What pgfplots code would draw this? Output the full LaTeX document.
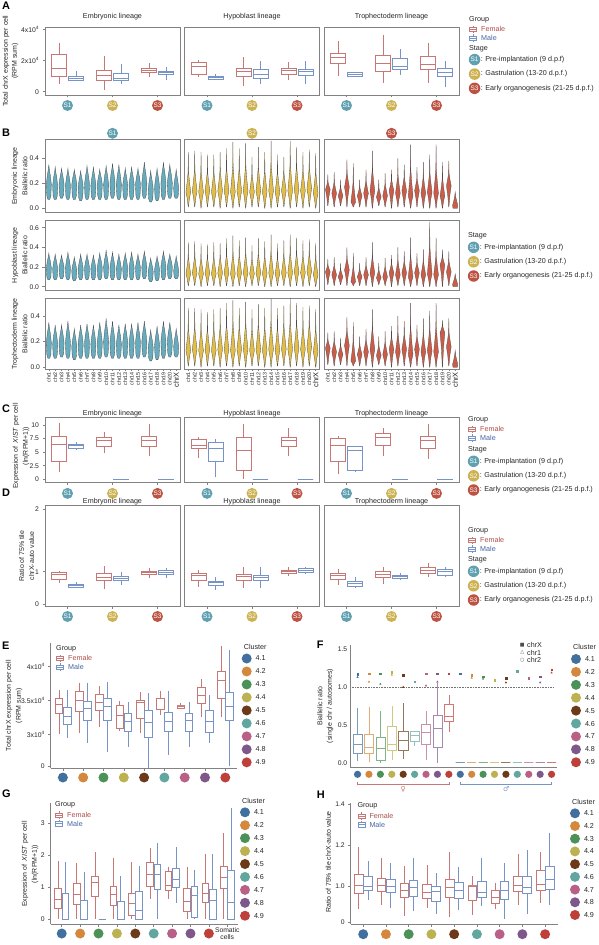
\documentclass[border=0pt]{standalone}
\usepackage{pgfplots}
\pgfplotsset{compat=1.18}
\usepgfplotslibrary{statistics}
\usepackage{fontspec}
\setmainfont{Liberation Sans}
\newfontfamily\symf{DejaVu Sans}

\definecolor{fcol}{RGB}{198,120,118}
\definecolor{mcol}{RGB}{120,148,198}
\definecolor{ftxt}{RGB}{176,78,74}
\definecolor{mtxt}{RGB}{70,100,165}
\definecolor{s1c}{RGB}{96,160,176}
\definecolor{s2c}{RGB}{204,178,82}
\definecolor{s3c}{RGB}{188,82,66}
\definecolor{v1}{RGB}{102,172,190}
\definecolor{v2}{RGB}{226,190,72}
\definecolor{v3}{RGB}{204,92,72}
\definecolor{c1}{RGB}{66,112,158}
\definecolor{c2}{RGB}{212,136,62}
\definecolor{c3}{RGB}{76,146,88}
\definecolor{c4}{RGB}{188,178,82}
\definecolor{c5}{RGB}{108,58,24}
\definecolor{c6}{RGB}{98,166,160}
\definecolor{c7}{RGB}{184,96,134}
\definecolor{c8}{RGB}{126,88,138}
\definecolor{c9}{RGB}{190,64,58}
\definecolor{axc}{RGB}{130,130,130}

\newcommand{\fsz}[1]{\fontsize{#1}{#1}\selectfont}
\newcommand{\stc}[2]{\tikz\node[circle,fill=#1,inner sep=0pt,minimum size=11bp,text=white,font=\fsz{6.5}]{#2};}
\newcommand{\clc}[1]{\tikz\node[circle,fill=#1,inner sep=0pt,minimum size=10bp]{};}

\pgfplotsset{
 base/.style={scale only axis, anchor=north west, clip=false,
   axis line style={draw=axc, line width=0.7pt},
   every tick/.style={draw=axc, line width=0.5pt},
   major tick length=2.5bp, tick align=outside, tick pos=left,
   tick label style={font=\fsz{6.8}, text=black!85},
   /pgf/number format/assume math mode=true,
   scaled ticks=false,
   boxplot/draw direction=y,
   boxplot/whisker extend=0},
 stx/.style={xtick={1,2,3}, xticklabels={\stc{s1c}{S1},\stc{s2c}{S2},\stc{s3c}{S3}}, xticklabel style={anchor=center, yshift=#1}},
 clx/.style={xtick={1,...,9}, xticklabels={\clc{c1},\clc{c2},\clc{c3},\clc{c4},\clc{c5},\clc{c6},\clc{c7},\clc{c8},\clc{c9}}, xticklabel style={anchor=center, yshift=#1}},
 open/.style={base, axis x line*=bottom, axis y line*=left},
 fbx/.style={draw=fcol, fill=white, line width=0.5pt},
 mbx/.style={draw=mcol, fill=white, line width=0.5pt},
 one/.style={yticklabel style={/pgf/number format/.cd, fixed, fixed zerofill, precision=1}},
 vax/.style={base, width=135bp, xmin=0.4, xmax=21.6, xtick=\empty, one},
}

\newcommand{\boff}{0.19}
\newcommand{\bF}[6]{\pgfmathsetmacro\dpos{#1-\boff}\edef\btmp{\noexpand\addplot[fbx, boxplot prepared={draw position=\dpos, lower whisker=#2, lower quartile=#3, median=#4, upper quartile=#5, upper whisker=#6}] coordinates {};}\btmp}
\newcommand{\bM}[6]{\pgfmathsetmacro\dpos{#1+\boff}\edef\btmp{\noexpand\addplot[mbx, boxplot prepared={draw position=\dpos, lower whisker=#2, lower quartile=#3, median=#4, upper quartile=#5, upper whisker=#6}] coordinates {};}\btmp}
\newcommand{\bC}[7]{\edef\btmp{\noexpand\addplot[draw=#1!70!white, fill=white, line width=0.5pt, boxplot prepared={draw position=#2, lower whisker=#3, lower quartile=#4, median=#5, upper quartile=#6, upper whisker=#7}] coordinates {};}\btmp}

% violin shape parameters
\newcommand{\shapeA}{\def\fa{0.25}\def\wa{0.8}\def\wdd{0.35}\def\fb{0.45}\def\wb{0.6}\def\fc{0.8}\def\wc{0.15}\def\vw{0.40}}
\newcommand{\shapeB}{\def\fa{0.55}\def\wa{0.45}\def\wdd{0.04}\def\fb{0.25}\def\wb{0.5}\def\fc{0.5}\def\wc{0.1}\def\vw{0.37}}
\newcommand{\shapeX}{\def\fa{0.5}\def\wa{0.95}\def\wdd{0.85}\def\fb{0.3}\def\wb{0.6}\def\fc{0.65}\def\wc{0.2}\def\vw{0.40}}
\newcommand{\vio}[4]{%
 \pgfmathsetmacro\vya{#2+\fa*(#3-#2)}%
 \pgfmathsetmacro\vyb{#3+\fb*(#4-#3)}%
 \pgfmathsetmacro\vyc{#3+\fc*(#4-#3)}%
 \pgfmathsetmacro\vxd{#1-\wdd*\vw}\pgfmathsetmacro\vXd{#1+\wdd*\vw}%
 \pgfmathsetmacro\vxa{#1-\wa*\vw}\pgfmathsetmacro\vXa{#1+\wa*\vw}%
 \pgfmathsetmacro\vxm{#1-\vw}\pgfmathsetmacro\vXm{#1+\vw}%
 \pgfmathsetmacro\vxb{#1-\wb*\vw}\pgfmathsetmacro\vXb{#1+\wb*\vw}%
 \pgfmathsetmacro\vxc{#1-\wc*\vw}\pgfmathsetmacro\vXc{#1+\wc*\vw}%
 \edef\vtmp{\noexpand\addplot[vio] coordinates {(\vxd,#2) (\vxa,\vya) (\vxm,#3) (\vxb,\vyb) (\vxc,\vyc) (#1,#4) (\vXc,\vyc) (\vXb,\vyb) (\vXm,#3) (\vXa,\vya) (\vXd,#2) (\vxd,#2)};}%
 \vtmp}

\tikzset{tl/.style={font=\fsz{7.2}, inner sep=0pt, text=black!85},
 yl/.style={font=\fsz{7}, inner sep=0pt, text=black!85, rotate=90},
 let/.style={font=\fsz{11}\bfseries, inner sep=0pt, anchor=north west}}

\newcommand{\glyph}[3]{\draw[#1, line width=0.5pt] ({#2-3.5},{#3-2.2}) rectangle ({#2+3.5},{#3+2.2}) ({#2-3.5},#3)--({#2+3.5},#3) (#2,{#3-2.2})--(#2,{#3-3.6}) (#2,{#3+2.2})--(#2,{#3+3.6});}
\newcommand{\grp}[2]{%
 \node[tl,anchor=west] at (#1,#2) {Group};
 \glyph{fcol}{#1+4}{#2+10}
 \node[tl,anchor=west,text=ftxt] at ({#1+12},{#2+10}) {Female};
 \glyph{mcol}{#1+4}{#2+18.7}
 \node[tl,anchor=west,text=mtxt] at ({#1+12},{#2+18.7}) {Male};}
\newcommand{\stg}[2]{%
 \node[tl,anchor=west] at (#1,#2) {Stage};
 \node[circle,fill=s1c,minimum size=11.5bp,inner sep=0pt,text=white,font=\fsz{6.5}] at ({#1+5.6},{#2+11.3}) {S1};
 \node[tl,anchor=west] at ({#1+11.6},{#2+11.3}) {: Pre-implantation (9 d.p.f)};
 \node[circle,fill=s2c,minimum size=11.5bp,inner sep=0pt,text=white,font=\fsz{6.5}] at ({#1+5.6},{#2+25.8}) {S2};
 \node[tl,anchor=west] at ({#1+11.6},{#2+25.8}) {: Gastrulation (13-20 d.p.f.)};
 \node[circle,fill=s3c,minimum size=11.5bp,inner sep=0pt,text=white,font=\fsz{6.5}] at ({#1+5.6},{#2+40}) {S3};
 \node[tl,anchor=west] at ({#1+11.6},{#2+40}) {: Early organogenesis (21-25 d.p.f.)};}
\newcommand{\clu}[4]{%
 \node[tl,anchor=west] at ({#1-3},#2) {Cluster};
 \foreach \cc [count=\kk] in {c1,c2,c3,c4,c5,c6,c7,c8,c9} {
  \node[circle,fill=\cc,minimum size=10bp,inner sep=0pt] at (#1,{#3+(\kk-1)*#4}) {};
  \node[tl,anchor=west] at ({#1+8.8},{#3+(\kk-1)*#4}) {4.\kk};}}

\begin{document}
\begin{tikzpicture}
\useasboundingbox (0,0) rectangle (599bp,-945bp);

%================ A =================
\begin{axis}[base, at={(45bp,-27.3bp)}, width=135bp, height=67.7bp, xmin=0.5, xmax=3.5, ymin=-0.21, ymax=4.13, stx=-8bp, boxplot/box extend=0.34, ytick={0,2,4}, yticklabels={0,2x10\textsuperscript{4},4x10\textsuperscript{4}}]
\bF{1}{0.49}{0.97}{1.5}{2.39}{3.13}\bM{1}{0.75}{0.76}{0.85}{1.02}{1.35}
\bF{2}{0.08}{0.72}{1.08}{1.35}{2.29}\bM{2}{0.5}{0.72}{0.87}{1.19}{1.78}
\bF{3}{0.97}{1.23}{1.35}{1.48}{1.86}\bM{3}{0.76}{1.14}{1.23}{1.33}{1.6}
\end{axis}
\begin{axis}[base, at={(184.5bp,-27.3bp)}, width=135bp, height=67.7bp, xmin=0.5, xmax=3.5, ymin=-0.21, ymax=4.13, stx=-8bp, boxplot/box extend=0.34, ytick=\empty]
\bF{1}{0.93}{1.14}{1.65}{1.86}{2.03}\bM{1}{0.8}{0.83}{0.9}{1.02}{1.14}
\bF{2}{0.34}{1.02}{1.29}{1.5}{2.2}\bM{2}{0.51}{0.87}{1.14}{1.44}{1.97}
\bF{3}{0.76}{1.14}{1.4}{1.5}{1.92}\bM{3}{0.49}{1.06}{1.29}{1.44}{1.97}
\end{axis}
\begin{axis}[base, at={(324bp,-27.3bp)}, width=135bp, height=67.7bp, xmin=0.5, xmax=3.5, ymin=-0.21, ymax=4.13, stx=-8bp, boxplot/box extend=0.34, ytick=\empty]
\bF{1}{1.02}{1.82}{2.2}{2.46}{3.26}\bM{1}{0.98}{1.02}{1.14}{1.23}{1.29}
\bF{2}{0.55}{1.29}{1.82}{2.35}{3.62}\bM{2}{1.08}{1.44}{1.65}{2.14}{2.71}
\bF{3}{0.55}{1.44}{1.78}{2.29}{3.13}\bM{3}{0.3}{0.97}{1.23}{1.5}{1.99}
\end{axis}

%================ B =================
% row 1
\begin{axis}[vax, at={(45bp,-139.3bp)}, height=73.4bp, ymin=-0.035, ymax=0.552, ytick={0,0.2,0.4}, vio/.style={fill=v1, draw=black!70, line width=0.3pt}]
\shapeA
\foreach \lo/\mo/\hi [count=\vi] in {0.07/0.19/0.35, 0.07/0.18/0.33, 0.08/0.19/0.32, 0.07/0.18/0.32, 0.07/0.19/0.31, 0.06/0.17/0.30, 0.07/0.19/0.34, 0.07/0.18/0.33, 0.07/0.19/0.31, 0.07/0.19/0.34, 0.08/0.20/0.36, 0.07/0.19/0.35, 0.07/0.18/0.32, 0.07/0.19/0.33, 0.07/0.19/0.32, 0.08/0.20/0.37, 0.05/0.15/0.30, 0.06/0.17/0.32, 0.07/0.20/0.37, 0.08/0.20/0.35, 0.08/0.16/0.31} {\vio{\vi}{\lo}{\mo}{\hi}}
\end{axis}
\begin{axis}[vax, at={(184.5bp,-139.3bp)}, height=73.4bp, ymin=-0.035, ymax=0.552, ytick=\empty, vio/.style={fill=v2, draw=black!70, line width=0.3pt}]
\shapeB
\foreach \lo/\mo/\hi [count=\vi] in {0.01/0.13/0.45, 0.01/0.14/0.46, 0.00/0.13/0.45, 0.01/0.14/0.43, 0.01/0.13/0.43, 0.00/0.14/0.45, 0.01/0.14/0.48, 0.00/0.13/0.53, 0.01/0.14/0.48, 0.00/0.14/0.52, 0.01/0.13/0.41, 0.01/0.14/0.49, 0.00/0.13/0.45, 0.00/0.14/0.54, 0.01/0.13/0.43, 0.01/0.14/0.41, 0.00/0.14/0.54, 0.01/0.15/0.49, 0.00/0.14/0.45, 0.01/0.16/0.47, 0.00/0.12/0.44} {\vio{\vi}{\lo}{\mo}{\hi}}
\end{axis}
\begin{axis}[vax, at={(324bp,-139.3bp)}, height=73.4bp, ymin=-0.035, ymax=0.552, ytick=\empty, vio/.style={fill=v3, draw=black!70, line width=0.3pt}]
\shapeB
\foreach \lo/\mo/\hi [count=\vi] in {0.02/0.15/0.27, 0.01/0.12/0.29, 0.02/0.10/0.23, 0.01/0.17/0.39, 0.01/0.05/0.36, 0.01/0.10/0.23, 0.01/0.12/0.31, 0.00/0.14/0.46, 0.02/0.09/0.23, 0.01/0.10/0.28, 0.00/0.14/0.31, 0.01/0.12/0.40, 0.01/0.14/0.35, 0.00/0.10/0.51, 0.01/0.14/0.33, 0.00/0.12/0.37, 0.00/0.13/0.43, 0.00/0.12/0.51, 0.00/0.10/0.37, 0.01/0.18/0.38} {\vio{\vi}{\lo}{\mo}{\hi}}
\shapeX \vio{21}{0.0}{0.025}{0.13}
\end{axis}
% row 2
\begin{axis}[vax, at={(45bp,-220bp)}, height=70.7bp, ymin=-0.041, ymax=0.678, ytick={0,0.2,0.4,0.6}, vio/.style={fill=v1, draw=black!70, line width=0.3pt}]
\shapeA
\foreach \lo/\mo/\hi [count=\vi] in {0.07/0.19/0.34, 0.07/0.18/0.33, 0.08/0.19/0.32, 0.07/0.19/0.35, 0.06/0.16/0.30, 0.07/0.18/0.33, 0.07/0.19/0.33, 0.07/0.18/0.32, 0.07/0.19/0.34, 0.08/0.20/0.37, 0.07/0.19/0.35, 0.07/0.18/0.33, 0.07/0.19/0.34, 0.07/0.19/0.35, 0.07/0.19/0.33, 0.08/0.20/0.36, 0.05/0.15/0.29, 0.06/0.17/0.31, 0.07/0.20/0.36, 0.08/0.20/0.33, 0.08/0.16/0.31} {\vio{\vi}{\lo}{\mo}{\hi}}
\end{axis}
\begin{axis}[vax, at={(184.5bp,-220bp)}, height=70.7bp, ymin=-0.041, ymax=0.678, ytick=\empty, vio/.style={fill=v2, draw=black!70, line width=0.3pt}]
\shapeB
\foreach \lo/\mo/\hi [count=\vi] in {0.01/0.13/0.45, 0.01/0.14/0.46, 0.00/0.13/0.44, 0.01/0.14/0.43, 0.01/0.13/0.45, 0.00/0.14/0.44, 0.01/0.14/0.49, 0.00/0.13/0.52, 0.01/0.14/0.47, 0.00/0.14/0.50, 0.01/0.13/0.42, 0.01/0.14/0.49, 0.00/0.13/0.46, 0.00/0.14/0.53, 0.01/0.13/0.44, 0.01/0.14/0.47, 0.00/0.14/0.53, 0.01/0.15/0.50, 0.00/0.14/0.47, 0.01/0.16/0.48, 0.00/0.12/0.44} {\vio{\vi}{\lo}{\mo}{\hi}}
\end{axis}
\begin{axis}[vax, at={(324bp,-220bp)}, height=70.7bp, ymin=-0.041, ymax=0.678, ytick=\empty, vio/.style={fill=v3, draw=black!70, line width=0.3pt}]
\shapeB
\foreach \lo/\mo/\hi [count=\vi] in {0.02/0.15/0.28, 0.01/0.12/0.30, 0.02/0.10/0.24, 0.01/0.17/0.40, 0.01/0.05/0.34, 0.01/0.10/0.24, 0.01/0.12/0.30, 0.00/0.14/0.45, 0.02/0.09/0.24, 0.01/0.10/0.29, 0.00/0.14/0.32, 0.01/0.12/0.40, 0.01/0.14/0.36, 0.00/0.10/0.50, 0.01/0.14/0.34, 0.00/0.12/0.38, 0.00/0.13/0.66, 0.00/0.12/0.50, 0.00/0.22/0.38, 0.01/0.15/0.36} {\vio{\vi}{\lo}{\mo}{\hi}}
\shapeX \vio{21}{0.0}{0.025}{0.13}
\end{axis}
% row 3
\begin{axis}[vax, at={(45bp,-298.3bp)}, height=71.2bp, ymin=-0.017, ymax=0.537, ytick={0,0.2,0.4}, xtick={1,...,21}, xticklabels={chr1,chr2,chr3,chr4,chr5,chr6,chr7,chr8,chr9,chr10,chr11,chr12,chr13,chr14,chr15,chr16,chr17,chr18,chr19,chr20,{\fsz{7.5}chrX}}, xticklabel style={rotate=90, anchor=east, font=\fsz{5.4}, inner sep=1pt}, major tick length=1.5bp, vio/.style={fill=v1, draw=black!70, line width=0.3pt}]
\shapeA
\foreach \lo/\mo/\hi [count=\vi] in {0.07/0.19/0.35, 0.07/0.18/0.33, 0.08/0.19/0.33, 0.07/0.19/0.36, 0.06/0.16/0.30, 0.07/0.18/0.33, 0.07/0.19/0.34, 0.07/0.18/0.33, 0.07/0.19/0.35, 0.08/0.20/0.38, 0.07/0.19/0.36, 0.07/0.18/0.33, 0.07/0.19/0.34, 0.07/0.19/0.34, 0.07/0.19/0.35, 0.08/0.20/0.36, 0.05/0.15/0.29, 0.06/0.17/0.32, 0.07/0.20/0.36, 0.08/0.20/0.35, 0.08/0.16/0.30} {\vio{\vi}{\lo}{\mo}{\hi}}
\end{axis}
\begin{axis}[vax, at={(184.5bp,-298.3bp)}, height=71.2bp, ymin=-0.017, ymax=0.537, ytick=\empty, xtick={1,...,21}, xticklabels={chr1,chr2,chr3,chr4,chr5,chr6,chr7,chr8,chr9,chr10,chr11,chr12,chr13,chr14,chr15,chr16,chr17,chr18,chr19,chr20,{\fsz{7.5}chrX}}, xticklabel style={rotate=90, anchor=east, font=\fsz{5.4}, inner sep=1pt}, major tick length=1.5bp, vio/.style={fill=v2, draw=black!70, line width=0.3pt}]
\shapeB
\foreach \lo/\mo/\hi [count=\vi] in {0.01/0.13/0.46, 0.01/0.14/0.46, 0.00/0.13/0.45, 0.01/0.14/0.43, 0.01/0.13/0.45, 0.00/0.14/0.46, 0.01/0.14/0.50, 0.00/0.13/0.52, 0.01/0.14/0.46, 0.00/0.14/0.51, 0.01/0.13/0.45, 0.01/0.14/0.49, 0.00/0.13/0.46, 0.00/0.14/0.53, 0.01/0.13/0.46, 0.01/0.14/0.48, 0.00/0.14/0.54, 0.01/0.15/0.50, 0.00/0.14/0.47, 0.01/0.16/0.48, 0.00/0.12/0.45} {\vio{\vi}{\lo}{\mo}{\hi}}
\end{axis}
\begin{axis}[vax, at={(324bp,-298.3bp)}, height=71.2bp, ymin=-0.017, ymax=0.537, ytick=\empty, xtick={1,...,21}, xticklabels={chr1,chr2,chr3,chr4,chr5,chr6,chr7,chr8,chr9,chr10,chr11,chr12,chr13,chr14,chr15,chr16,chr17,chr18,chr19,chr20,{\fsz{7.5}chrX}}, xticklabel style={rotate=90, anchor=east, font=\fsz{5.4}, inner sep=1pt}, major tick length=1.5bp, vio/.style={fill=v3, draw=black!70, line width=0.3pt}]
\shapeB
\foreach \lo/\mo/\hi [count=\vi] in {0.02/0.15/0.27, 0.01/0.12/0.28, 0.02/0.10/0.23, 0.01/0.17/0.39, 0.01/0.05/0.35, 0.01/0.10/0.24, 0.01/0.12/0.30, 0.00/0.14/0.45, 0.02/0.09/0.24, 0.01/0.10/0.28, 0.00/0.14/0.32, 0.01/0.12/0.40, 0.01/0.14/0.36, 0.00/0.10/0.50, 0.01/0.14/0.33, 0.00/0.12/0.38, 0.00/0.13/0.44, 0.00/0.12/0.50, 0.00/0.27/0.37, 0.01/0.16/0.38} {\vio{\vi}{\lo}{\mo}{\hi}}
\shapeX \vio{21}{0.0}{0.025}{0.13}
\end{axis}

%================ C =================
\begin{axis}[base, at={(45bp,-417.7bp)}, width=135bp, height=64.6bp, xmin=0.5, xmax=3.5, ymin=-0.55, ymax=11.34, stx=-8.6bp, boxplot/box extend=0.34, ytick={0,2.5,5,7.5,10}]
\bF{1}{1.29}{3.37}{6.5}{7.85}{10.3}\bM{1}{5.4}{5.7}{6.3}{6.44}{6.9}
\bF{2}{4.8}{6.0}{7.1}{7.7}{8.8}\bM{2}{0}{0}{0}{0}{0}
\bF{3}{4.2}{6.0}{7.2}{7.85}{10.1}\bM{3}{0}{0}{0}{0}{0}
\end{axis}
\begin{axis}[base, at={(184.5bp,-417.7bp)}, width=135bp, height=64.6bp, xmin=0.5, xmax=3.5, ymin=-0.55, ymax=11.34, stx=-8.6bp, boxplot/box extend=0.34, ytick=\empty]
\bF{1}{3.9}{5.7}{6.3}{7.4}{7.7}\bM{1}{0.5}{3.25}{5.7}{6.75}{7.4}
\bF{2}{0}{1.7}{5.3}{7.67}{10.1}\bM{2}{0}{0}{0}{0}{0}
\bF{3}{4.35}{6.1}{7.1}{7.67}{9.5}\bM{3}{0}{0}{0}{0}{0}
\end{axis}
\begin{axis}[base, at={(324bp,-417.7bp)}, width=135bp, height=64.6bp, xmin=0.5, xmax=3.5, ymin=-0.55, ymax=11.34, stx=-8.6bp, boxplot/box extend=0.34, ytick=\empty]
\bF{1}{0.9}{3.25}{6.3}{7.55}{7.98}\bM{1}{1.5}{1.6}{5.3}{6.0}{6.2}
\bF{2}{4.2}{6.3}{7.7}{8.5}{9.4}\bM{2}{0}{0}{0}{0}{0}
\bF{3}{3.7}{5.8}{7.1}{7.85}{10.1}\bM{3}{0}{0}{0}{0}{0}
\end{axis}

%================ D =================
\begin{axis}[base, at={(45bp,-505bp)}, width=135bp, height=101bp, xmin=0.5, xmax=3.5, ymin=0.45, ymax=2.07, stx=-8bp, boxplot/box extend=0.34, ytick={0.478,1,2}, yticklabels={0,1,2}]
\bF{1}{0.814}{0.878}{0.963}{0.984}{1.011}\bM{1}{0.734}{0.75}{0.782}{0.803}{0.83}
\bF{2}{0.718}{0.867}{0.91}{0.974}{1.096}\bM{2}{0.787}{0.862}{0.894}{0.92}{0.99}
\bF{3}{0.904}{0.958}{0.984}{1.011}{1.064}\bM{3}{0.904}{0.958}{0.99}{1.027}{1.064}
\end{axis}
\begin{axis}[base, at={(184.5bp,-505bp)}, width=135bp, height=101bp, xmin=0.5, xmax=3.5, ymin=0.45, ymax=2.07, stx=-8bp, boxplot/box extend=0.34, ytick=\empty]
\bF{1}{0.76}{0.867}{0.936}{0.974}{1.027}\bM{1}{0.707}{0.776}{0.824}{0.851}{0.92}
\bF{2}{0.744}{0.867}{0.92}{0.958}{1.08}\bM{2}{0.744}{0.862}{0.91}{0.947}{1.08}
\bF{3}{0.936}{0.974}{1.0}{1.027}{1.08}\bM{3}{0.958}{0.99}{1.027}{1.054}{1.08}
\end{axis}
\begin{axis}[base, at={(324bp,-505bp)}, width=135bp, height=101bp, xmin=0.5, xmax=3.5, ymin=0.45, ymax=2.07, stx=-8bp, boxplot/box extend=0.34, ytick=\empty]
\bF{1}{0.787}{0.883}{0.936}{0.974}{1.043}\bM{1}{0.744}{0.76}{0.814}{0.851}{0.91}
\bF{2}{0.803}{0.904}{0.963}{1.0}{1.08}\bM{2}{0.867}{0.894}{0.92}{0.947}{0.984}
\bF{3}{0.91}{0.974}{1.027}{1.064}{1.144}\bM{3}{0.91}{0.947}{1.0}{1.038}{1.08}
\end{axis}

%================ E (values in units of 10^4 RPM) =================
\begin{axis}[open, at={(50.7bp,-643bp)}, width=186.8bp, height=125.3bp, xmin=0.4, xmax=9.6, ymin=2.4956, ymax=4.34, clx=-6.7bp, boxplot/box extend=0.38, ytick={2.52,3,3.5,4}, yticklabels={0,3x10\textsuperscript{4},3.5x10\textsuperscript{4},4x10\textsuperscript{4}}]
\def\boff{0.2}
\bF{1}{3.0}{3.304}{3.441}{3.525}{3.647}\bM{1}{2.937}{3.142}{3.255}{3.392}{3.647}
\bF{2}{3.01}{3.338}{3.5}{3.632}{3.745}\bM{2}{2.863}{3.206}{3.378}{3.485}{3.745}
\bF{3}{3.108}{3.343}{3.475}{3.583}{3.71}\bM{3}{2.74}{3.206}{3.402}{3.525}{3.76}
\bF{4}{3.04}{3.084}{3.28}{3.426}{3.49}\bM{4}{2.814}{3.034}{3.191}{3.313}{3.466}
\bF{5}{3.01}{3.23}{3.475}{3.5}{3.622}\bM{5}{2.5}{2.96}{3.167}{3.353}{3.598}
\bF{6}{3.28}{3.363}{3.525}{3.525}{3.632}\bM{6}{2.691}{3.034}{3.181}{3.328}{3.632}
\bF{7}{3.378}{3.387}{3.416}{3.426}{3.461}\bM{7}{2.814}{3.034}{3.206}{3.313}{3.475}
\bF{8}{3.255}{3.451}{3.574}{3.696}{3.804}\bM{8}{2.863}{3.02}{3.191}{3.353}{3.574}
\bF{9}{3.254}{3.525}{3.794}{3.931}{4.294}\bM{9}{2.53}{3.206}{3.402}{3.622}{4.235}
\end{axis}

%================ F =================
\begin{axis}[open, at={(350.7bp,-645bp)}, width=206bp, height=122.7bp, xmin=0.4, xmax=18.45, ymin=-0.066, ymax=1.557, ytick={0,0.5,1,1.5}, one, xtick={1,...,18}, xticklabels={\clc{c1},\clc{c2},\clc{c3},\clc{c4},\clc{c5},\clc{c6},\clc{c7},\clc{c8},\clc{c9},\clc{c1},\clc{c2},\clc{c3},\clc{c4},\clc{c5},\clc{c6},\clc{c7},\clc{c8},\clc{c9}}, xticklabel style={anchor=center, yshift=-6.6bp, scale=0.85}, major tick length=0bp, boxplot/box extend=0.8]
\addplot[densely dotted, black!55, line width=0.6pt] coordinates {(0.5,1) (18.2,1)};
\bC{c1}{1}{0.02}{0.13}{0.24}{0.37}{0.73}
\bC{c2}{2}{0.01}{0.12}{0.21}{0.38}{0.74}
\bC{c3}{3}{0.0}{0.03}{0.19}{0.34}{0.69}
\bC{c4}{4}{0.04}{0.17}{0.25}{0.485}{0.75}
\bC{c5}{5}{0.05}{0.17}{0.30}{0.42}{0.79}
\bC{c6}{6}{0.22}{0.29}{0.36}{0.42}{0.42}
\bC{c7}{7}{0.03}{0.24}{0.40}{0.51}{0.68}
\bC{c8}{8}{0.0}{0.21}{0.455}{0.63}{1.05}
\bC{c9}{9}{0.41}{0.55}{0.62}{0.78}{0.9}
\bC{c1}{10}{0}{0}{0}{0}{0}
\bC{c2}{11}{0}{0}{0}{0}{0}
\bC{c3}{12}{0}{0}{0}{0}{0}
\bC{c4}{13}{0}{0}{0}{0}{0}
\bC{c5}{14}{0}{0}{0}{0}{0}
\bC{c6}{15}{0}{0}{0}{0}{0}
\bC{c7}{16}{0}{0}{0}{0}{0}
\bC{c8}{17}{0}{0}{0}{0}{0}
\bC{c9}{18}{0}{0}{0}{0}{0}
\addplot[only marks, mark=square*, mark size=0.8, c1] coordinates {(1,1.17)};
\addplot[only marks, mark=triangle*, mark size=0.9, c1] coordinates {(1,1.13)};
\addplot[only marks, mark=square*, mark size=0.8, c2] coordinates {(2,1.18)};
\addplot[only marks, mark=triangle*, mark size=0.9, c2] coordinates {(2,1.07)};
\addplot[only marks, mark=square*, mark size=0.8, c3] coordinates {(3,1.18)};
\addplot[only marks, mark=triangle*, mark size=0.9, c3] coordinates {(3,1.04)};
\addplot[only marks, mark=square*, mark size=0.8, c4] coordinates {(4,1.20)};
\addplot[only marks, mark=triangle*, mark size=0.9, c4] coordinates {(4,1.16)};
\addplot[only marks, mark=square*, mark size=0.8, c5] coordinates {(5,1.16)};
\addplot[only marks, mark=triangle*, mark size=0.9, c5] coordinates {(5,1.00)};
\addplot[only marks, mark=square*, mark size=0.8, c6] coordinates {(6,1.07)};
\addplot[only marks, mark=square*, mark size=0.8, c7] coordinates {(7,1.18)};
\addplot[only marks, mark=triangle*, mark size=0.9, c7] coordinates {(7,1.02)};
\addplot[only marks, mark=square*, mark size=0.8, c8] coordinates {(8,1.18)};
\addplot[only marks, mark=triangle*, mark size=0.9, c8] coordinates {(8,1.07)};
\addplot[only marks, mark=square*, mark size=0.8, c9] coordinates {(9,1.18)};
\addplot[only marks, mark=square*, mark size=0.8, c1] coordinates {(10,1.18)};
\addplot[only marks, mark=square*, mark size=0.8, c2] coordinates {(11,1.16)};
\addplot[only marks, mark=triangle*, mark size=0.9, c2] coordinates {(11,1.12)};
\addplot[only marks, mark=square*, mark size=0.8, c3] coordinates {(12,1.14)};
\addplot[only marks, mark=triangle*, mark size=0.9, c3] coordinates {(12,1.11)};
\addplot[only marks, mark=square*, mark size=0.8, c4] coordinates {(13,1.09)};
\addplot[only marks, mark=square*, mark size=0.8, c5] coordinates {(14,1.12)};
\addplot[only marks, mark=triangle*, mark size=0.9, c5] coordinates {(14,1.06)};
\addplot[only marks, mark=square*, mark size=0.8, c6] coordinates {(15,1.21)};
\addplot[only marks, mark=square*, mark size=0.8, c7] coordinates {(16,1.12)};
\addplot[only marks, mark=square*, mark size=0.8, c8] coordinates {(17,1.14)};
\addplot[only marks, mark=triangle*, mark size=0.9, c8] coordinates {(17,1.06)};
\addplot[only marks, mark=square*, mark size=0.8, c9] coordinates {(18,1.23)};
\addplot[only marks, mark=triangle*, mark size=0.9, c9] coordinates {(18,1.19)};
\end{axis}

%================ G =================
\begin{axis}[open, at={(50.7bp,-803.3bp)}, width=187.6bp, height=121bp, xmin=0.4, xmax=10.6, ymin=-0.166, ymax=3.63, ytick={0,1,2,3}, xtick={1,...,10}, xticklabels={\clc{c1},\clc{c2},\clc{c3},\clc{c4},\clc{c5},\clc{c6},\clc{c7},\clc{c8},\clc{c9},{Somatic\\cells}}, xticklabel style={anchor=center, yshift=-6.7bp, align=center}, boxplot/box extend=0.36]
\def\boff{0.2}
\bF{1}{0}{0.335}{0.63}{0.96}{1.82}\bM{1}{0}{0}{0}{0.8}{1.8}
\bF{2}{0}{0.46}{0.77}{1.12}{1.77}\bM{2}{0}{0}{0}{0.6}{1.49}
\bF{3}{0}{0.73}{1.15}{1.33}{2.11}\bM{3}{0}{0}{0}{0}{0}
\bF{4}{0}{0.42}{0.77}{1.04}{1.93}\bM{4}{0}{0}{0}{0.56}{1.35}
\bF{5}{0}{0.12}{0.48}{0.8}{1.8}\bM{5}{0}{0}{0.26}{0.88}{1.66}
\bF{6}{0.62}{1.04}{1.4}{1.77}{2.22}\bM{6}{0}{0.93}{1.4}{1.71}{2.37}
\bF{7}{0.62}{0.9}{1.07}{1.51}{1.64}\bM{7}{0.49}{0.99}{1.25}{1.59}{2.25}
\bF{8}{0}{0.23}{0.55}{0.96}{1.63}\bM{8}{0}{0.07}{0.74}{1.03}{1.54}
\bF{9}{0}{0.52}{0.8}{1.12}{2.03}\bM{9}{0}{0}{0.6}{0.93}{2.04}
\bF{10}{0}{0.96}{1.31}{1.64}{2.69}\bM{10}{0}{0}{0.52}{1.54}{3.47}
\end{axis}

%================ H =================
\begin{axis}[open, at={(350.7bp,-803.3bp)}, width=207.6bp, height=121bp, xmin=0.45, xmax=9.58, ymin=0.813, ymax=1.403, ytick={0.823,1,1.2,1.4}, yticklabels={0,1.0,1.2,1.4}, clx=-7.4bp, boxplot/box extend=0.38]
\def\boff{0.2}
\bF{1}{0.888}{0.962}{1.005}{1.057}{1.19}\bM{1}{0.932}{0.979}{0.997}{1.045}{1.122}
\bF{2}{0.907}{0.972}{1.005}{1.038}{1.138}\bM{2}{0.891}{0.969}{0.997}{1.034}{1.11}
\bF{3}{0.855}{0.943}{0.98}{1.013}{1.098}\bM{3}{0.878}{0.95}{0.992}{1.026}{1.138}
\bF{4}{0.891}{0.94}{0.967}{1.008}{1.102}\bM{4}{0.863}{0.927}{0.972}{0.997}{1.065}
\bF{5}{0.85}{0.943}{0.995}{1.034}{1.164}\bM{5}{0.883}{0.94}{0.977}{1.018}{1.091}
\bF{6}{0.859}{0.932}{1.0}{1.003}{1.049}\bM{6}{0.902}{0.945}{0.969}{1.024}{1.138}
\bF{7}{0.888}{0.916}{0.945}{0.977}{1.013}\bM{7}{0.839}{0.937}{0.98}{1.024}{1.11}
\bF{8}{0.907}{0.972}{1.005}{1.045}{1.156}\bM{8}{0.862}{0.964}{0.993}{1.049}{1.176}
\bF{9}{0.919}{0.98}{1.01}{1.078}{1.167}\bM{9}{0.907}{0.984}{1.033}{1.098}{1.257}
\end{axis}

%================ annotations =================
\begin{scope}[x=1bp,y=-1bp]
\node[let] at (2,1.7) {A};
\node[let] at (2,129) {B};
\node[let] at (2,404.3) {C};
\node[let] at (2,488.3) {D};
\node[let] at (2,641.7) {E};
\node[let] at (316.7,641) {F};
\node[let] at (2,790) {G};
\node[let] at (316.7,791) {H};
\foreach \yy in {16.7,413.8,501.3} {
 \node[tl] at (112.5,\yy) {Embryonic lineage};
 \node[tl] at (252,\yy) {Hypoblast lineage};
 \node[tl] at (391.5,\yy) {Trophectoderm lineage};}
\node[yl] at (6,61) {Total chrX expression per cell};
\node[yl] at (15,61) {(RPM sum)};
\node[yl] at (15,176) {Embryonic lineage};
\node[yl] at (25,176) {Biallelic ratio};
\node[yl] at (15,255.3) {Hypoblast lineage};
\node[yl] at (25,255.3) {Biallelic ratio};
\node[yl] at (15,334) {Trophectoderm lineage};
\node[yl] at (25,334) {Biallelic ratio};
\node[yl] at (16,446) {Expression of \,\textit{XIST} per cell};
\node[yl] at (26,446) {(ln(RPM+1))};
\node[yl] at (21.7,556) {Ratio of 75\% tile};
\node[yl] at (31.7,556) {chrX-auto value};
\node[yl] at (9,705.6) {Total chrX expression per cell};
\node[yl] at (19,705.6) {(RPM sum)};
\node[yl] at (320,706) {Biallelic ratio};
\node[yl] at (330,706) {(single chr / autosomes)};
\node[yl] at (25,864) {Expression of \,\textit{XIST} per cell};
\node[yl] at (35,864) {(ln(RPM+1))};
\node[yl] at (328.3,862) {Ratio of 75\% tile chrX-auto value};
\node[circle,fill=s1c,minimum size=11bp,inner sep=0pt,text=white,font=\fsz{6.5}] at (112.5,133.3) {S1};
\node[circle,fill=s2c,minimum size=11bp,inner sep=0pt,text=white,font=\fsz{6.5}] at (252,133.3) {S2};
\node[circle,fill=s3c,minimum size=11bp,inner sep=0pt,text=white,font=\fsz{6.5}] at (391.5,133.3) {S3};
\grp{469}{19.3}
\stg{469}{48.3}
\stg{468}{236}
\grp{468}{419.3}
\stg{468}{450}
\grp{468}{530.3}
\stg{468}{560}
\grp{56}{648.3}
\clu{246.7}{647.3}{658.5}{12.98}
\node[font=\symf\fsz{5}, text=black!70, inner sep=0pt] at (522.3,645) {■};
\node[tl, anchor=west] at (527,645) {chrX};
\node[font=\symf\fsz{5}, text=black!70, inner sep=0pt] at (522.3,652.7) {△};
\node[tl, anchor=west] at (527,652.7) {chr1};
\node[font=\symf\fsz{5}, text=black!70, inner sep=0pt] at (522.3,660.4) {○};
\node[tl, anchor=west] at (527,660.4) {chr2};
\clu{576}{646.7}{659}{12.91}
\draw[fcol, line width=0.6pt] (357.7,781.5)--(357.7,784)--(449,784)--(449,781.5);
\node[font=\symf\fsz{7}, text=fcol, inner sep=0pt] at (403.3,789.5) {♀};
\draw[mcol, line width=0.6pt] (460.7,781.5)--(460.7,784)--(551.7,784)--(551.7,781.5);
\node[font=\symf\fsz{7}, text=mcol, inner sep=0pt] at (506.2,789.5) {♂};
\grp{55}{805}
\clu{245}{801}{812.3}{12.93}
\grp{357.3}{806}
\clu{575}{801.7}{813.3}{12.71}
\end{scope}
\end{tikzpicture}
\end{document}
